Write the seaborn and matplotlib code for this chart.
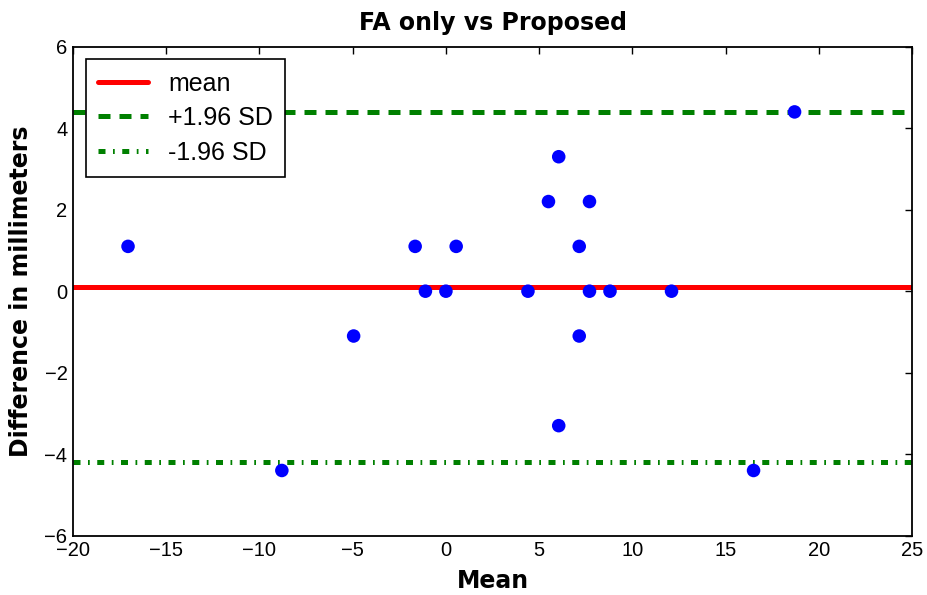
import pandas as pd
import matplotlib
matplotlib.use("Agg")
import matplotlib.pyplot as plt
import seaborn as sns

# Bland-Altman values
mean_vals = [-17.05, -8.8, -4.95, -1.65, -1.1, 0.0, 0.55, 4.4, 5.5, 6.05,
             6.05, 7.15, 7.15, 7.7, 7.7, 8.8, 12.1, 16.5, 18.7]
diff_vals = [1.1, -4.4, -1.1, 1.1, 0.0, 0.0, 1.1, 0.0, 2.2, 3.3,
             -3.3, 1.1, -1.1, 2.2, 0.0, 0.0, 0.0, -4.4, 4.4]
mean_diff = 0.105
upper_loa = 4.40
lower_loa = -4.19

df = pd.DataFrame({"Mean": mean_vals, "Diff": diff_vals})

sns.set_style("white")
plt.rcParams["font.family"] = ["Liberation Sans", "DejaVu Sans"]
plt.rcParams["text.color"] = "black"
plt.rcParams["axes.labelcolor"] = "black"
plt.rcParams["xtick.color"] = "black"
plt.rcParams["ytick.color"] = "black"

fig = plt.figure(figsize=(9.28, 5.95), dpi=100)
ax = fig.add_axes([0.0787, 0.0997, 0.9041, 0.8218])

sns.scatterplot(data=df, x="Mean", y="Diff", ax=ax, color="blue", s=95,
                edgecolor="none", zorder=3, legend=False)

ax.axhline(mean_diff, color="red", lw=3.6, label="mean", zorder=2)
ax.axhline(upper_loa, color="green", lw=3.6, dashes=(2.4, 1.8), label="+1.96 SD", zorder=2)
ax.axhline(lower_loa, color="green", lw=3.6, dashes=(1.4, 1.5, 0.35, 1.5), label="-1.96 SD", zorder=2)

ax.set_xlim(-20, 25)
ax.set_ylim(-6, 6)
ax.set_xticks(range(-20, 26, 5))
ax.set_yticks(range(-6, 7, 2))
ax.tick_params(direction="in", top=True, right=True, length=5, width=1,
               labelsize=14.5, pad=4)
for s in ax.spines.values():
    s.set_color("black")
    s.set_linewidth(1.3)

bold = dict(family="DejaVu Sans", weight="bold", size=17, color="black")
ax.set_title("FA only vs Proposed", pad=12, **bold)
ax.set_xlabel("Mean", labelpad=6, **bold)
ax.set_ylabel("Difference in millimeters", labelpad=8, **bold)

leg = ax.legend(loc="upper left", fontsize=18, frameon=True, fancybox=False,
                framealpha=1, handlelength=2.0, borderpad=0.5, labelspacing=0.42,
                bbox_to_anchor=(0.0, 1.0), borderaxespad=0.5)
leg.get_frame().set_edgecolor("black")
leg.get_frame().set_linewidth(1.2)

fig.savefig("out.png", dpi=100)
